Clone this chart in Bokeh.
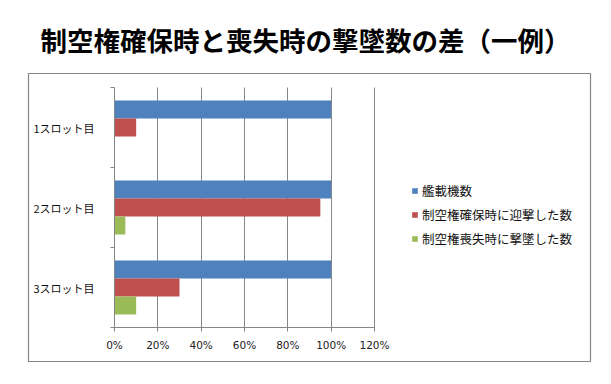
from bokeh.plotting import figure
from bokeh.models import (Legend, LegendItem, FixedTicker, NumeralTickFormatter, Range1d)
from bokeh.embed import file_html
from bokeh.resources import INLINE

# ---- data ----
categories = ["1スロット目", "2スロット目", "3スロット目"]
series_names = ["艦載機数", "制空権確保時に迎撃した数", "制空権喪失時に撃墜した数"]
carried = [1.00, 1.00, 1.00]
intercepted = [0.10, 0.95, 0.30]
shot_down = [0.00, 0.05, 0.10]
x_ticks = [0, 0.2, 0.4, 0.6, 0.8, 1.0, 1.2]
title_text = "制空権確保時と喪失時の撃墜数の差（一例）"

colors = ["#4F81BD", "#C0504D", "#9BBB59"]
GRAY = "#868686"
CJK = "Noto Sans CJK JP"

n = len(categories)
centers = [n - i - 0.5 for i in range(n)]
bar_h = 0.225
offsets = [bar_h, 0.0, -bar_h]
series = [carried, intercepted, shot_down]
x_max = x_ticks[-1]

# frame = chart border box; plot area is placed inside it through the ranges
W, H = 611, 384
box_l, box_r, box_t, box_b = 28, 590, 73, 361      # border box (px)
pa_l, pa_r, pa_t, pa_b = 114, 374, 87, 327         # plot area (px)
kx = (pa_r - pa_l) / x_max
ky = (pa_b - pa_t) / n
x_rng = Range1d(-(pa_l - box_l) / kx, x_max + (box_r - pa_r) / kx)
y_rng = Range1d(-(box_b - pa_b) / ky, n + (pa_t - box_t) / ky)

p = figure(width=W, height=H, output_backend="svg", toolbar_location=None,
           x_range=x_rng, y_range=y_rng,
           min_border_left=box_l, min_border_right=W - box_r,
           min_border_top=box_t, min_border_bottom=H - box_b,
           title=title_text)
p.title.align = "left"
p.title.offset = 12
p.title.vertical_align = "middle"
p.title.text_font = CJK
p.title.text_font_size = "26.5px"
p.title.text_font_style = "bold"
p.title.text_color = "black"
p.title.standoff = 28
p.outline_line_color = GRAY
p.outline_line_width = 1.2
p.background_fill_color = "white"
p.border_fill_color = "white"

renderers = []
for vals, off, col in zip(series, offsets, colors):
    r = p.hbar(y=[c + off for c in centers], right=vals, left=0, height=bar_h,
               fill_color=col, line_color=None)
    renderers.append(r)

# x axis
p.xaxis.fixed_location = 0
p.xaxis.bounds = (0, x_max)
p.xaxis.ticker = FixedTicker(ticks=x_ticks)
p.xaxis.formatter = NumeralTickFormatter(format="0%")
p.xaxis.axis_line_color = GRAY
p.xaxis.major_tick_line_color = GRAY
p.xaxis.major_tick_out = 4
p.xaxis.major_tick_in = 0
p.xaxis.minor_tick_line_color = None
p.xaxis.major_label_standoff = 7
p.xaxis.major_label_text_font = "DejaVu Sans"
p.xaxis.major_label_text_font_size = "10.5px"
p.xaxis.major_label_text_color = "#222222"

p.xgrid.ticker = FixedTicker(ticks=x_ticks)
p.xgrid.grid_line_color = GRAY
p.xgrid.cross_bounds = (0, n)
p.ygrid.grid_line_color = None

# y axis: labels at category centres, tick marks at boundaries
p.yaxis.fixed_location = 0
p.yaxis.bounds = (0, n)
p.yaxis.ticker = FixedTicker(ticks=centers, minor_ticks=list(range(n + 1)))
p.yaxis.major_label_overrides = {c: cat for c, cat in zip(centers, categories)}
p.yaxis.axis_line_color = GRAY
p.yaxis.major_tick_line_color = None
p.yaxis.major_tick_out = 0
p.yaxis.major_tick_in = 0
p.yaxis.minor_tick_line_color = GRAY
p.yaxis.minor_tick_out = 4
p.yaxis.minor_tick_in = 0
p.yaxis.major_label_standoff = 16
p.yaxis.major_label_text_font = CJK
p.yaxis.major_label_text_font_size = "11px"
p.yaxis.major_label_text_color = "#111111"

# legend
legend = Legend(items=[LegendItem(label=nm, renderers=[r]) for nm, r in zip(series_names, renderers)],
                location=(383, 113), orientation="vertical",
                glyph_width=7, glyph_height=7, label_height=20, spacing=4,
                label_standoff=4, padding=0, margin=0,
                border_line_color=None, background_fill_alpha=0,
                label_text_font=CJK, label_text_font_size="12.5px",
                label_text_color="#111111")
p.add_layout(legend)

open("out.html", "w").write(file_html(p, INLINE))
